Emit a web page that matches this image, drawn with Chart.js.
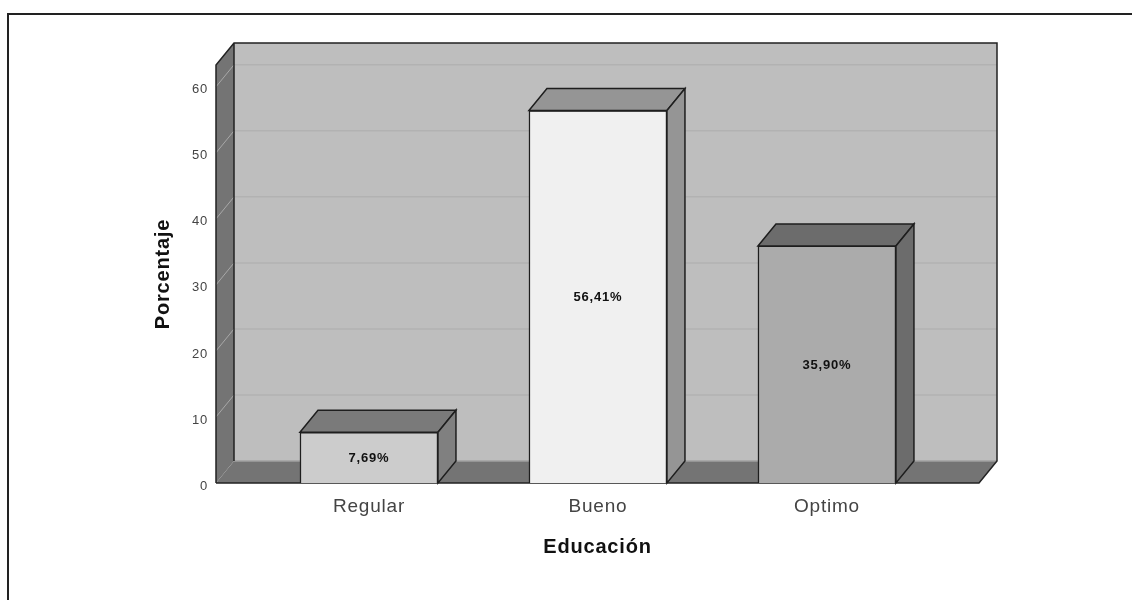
<!DOCTYPE html>
<html><head><meta charset="utf-8">
<style>html,body{margin:0;padding:0;background:#fff;width:1132px;height:600px;overflow:hidden}
#f{position:absolute;left:7px;top:13px;width:1200px;height:700px;border:2px solid #222;box-sizing:content-box}
canvas{position:absolute;left:0;top:0;filter:blur(0.35px)}</style>
<script src="https://cdn.jsdelivr.net/npm/chart.js@4"></script></head>
<body><canvas id="c" width="1132" height="600" style="width:1132px;height:600px"></canvas><div id="f"></div>
<script>
const categories=['Regular','Bueno','Optimo'];
const porcentaje=[7.69,56.41,35.90];
const valueLabels=['7,69%','56,41%','35,90%'];
const yTicks=[0,10,20,30,40,50,60];
const frontColors=['#cccccc','#f0f0f0','#ababab'];
const topColors=['#7a7a7a','#959595','#6c6c6c'];
const sideColors=['#808080','#959595','#6c6c6c'];
const yMax=63.3, xMin=-0.668, xMax=2.664;
const DX=18, DY=-22;
function poly(ctx,pts,fill,stroke,w){ctx.beginPath();pts.forEach((p,i)=>i?ctx.lineTo(p[0],p[1]):ctx.moveTo(p[0],p[1]));ctx.closePath();
 if(fill){ctx.fillStyle=fill;ctx.fill();} if(stroke){ctx.strokeStyle=stroke;ctx.lineWidth=w||1.5;ctx.stroke();}}
const box3d={id:'box3d',
 beforeDraw(chart){chart.ctx.letterSpacing='0.8px';},
 beforeDatasetsDraw(chart){const {ctx,scales:{x,y}}=chart;const L=x.left,R=x.right,T=y.top,B=y.bottom;ctx.save();
  poly(ctx,[[L+DX,T+DY],[R+DX,T+DY],[R+DX,B+DY],[L+DX,B+DY]],'#bebebe');
  poly(ctx,[[L,T],[L+DX,T+DY],[L+DX,B+DY],[L,B]],'#747474');
  poly(ctx,[[L,B],[L+DX,B+DY],[R+DX,B+DY],[R,B]],'#747474');
  yTicks.slice(1).forEach(v=>{const p=y.getPixelForValue(v);ctx.strokeStyle='#b2b2b2';ctx.lineWidth=1.5;
    ctx.beginPath();ctx.moveTo(L+DX,p+DY);ctx.lineTo(R+DX,p+DY);ctx.stroke();
    ctx.strokeStyle='#a8a8a8';ctx.lineWidth=1;ctx.beginPath();ctx.moveTo(L,p);ctx.lineTo(L+DX,p+DY);ctx.stroke();});
  const p0=y.getPixelForValue(0);ctx.strokeStyle='#a0a0a0';ctx.lineWidth=1.5;ctx.beginPath();ctx.moveTo(L+DX,p0+DY);ctx.lineTo(R+DX,p0+DY);ctx.stroke();
  ctx.strokeStyle='#222';ctx.lineWidth=1.5;ctx.beginPath();
  ctx.moveTo(L,B);ctx.lineTo(L,T);ctx.lineTo(L+DX,T+DY);ctx.lineTo(R+DX,T+DY);ctx.lineTo(R+DX,B+DY);ctx.lineTo(R,B);ctx.lineTo(L,B);
  ctx.moveTo(L+DX,T+DY);ctx.lineTo(L+DX,B+DY);ctx.stroke();
  ctx.restore();},
 afterDatasetsDraw(chart){const {ctx}=chart;const bars=chart.getDatasetMeta(0).data;ctx.save();
  bars.forEach((b,i)=>{const l=b.x-b.width/2,r=b.x+b.width/2,t=b.y,bo=b.base;
   poly(ctx,[[l,t],[l+DX,t+DY],[r+DX,t+DY],[r,t]],topColors[i],'#1e1e1e',1.5);
   poly(ctx,[[r,t],[r+DX,t+DY],[r+DX,bo+DY],[r,bo]],sideColors[i],'#1e1e1e',1.5);
   ctx.fillStyle='#111';ctx.font='bold 13px "Liberation Sans"';ctx.textAlign='center';ctx.textBaseline='middle';
   ctx.fillText(valueLabels[i],b.x,(t+bo)/2+1);});
  ctx.restore();}};
new Chart(document.getElementById('c'),{type:'bar',
 data:{datasets:[{data:categories.map((c,i)=>({x:i,y:porcentaje[i]})),backgroundColor:frontColors,borderColor:'#1e1e1e',borderWidth:1.5,barThickness:138}]},
 plugins:[box3d],
 options:{responsive:false,animation:false,devicePixelRatio:1,
  layout:{padding:{top:65,right:153,left:0,bottom:0}},
  plugins:{legend:{display:false},tooltip:{enabled:false},title:{display:false}},
  scales:{
   x:{type:'linear',offset:false,min:xMin,max:xMax,grid:{display:false,drawTicks:false},border:{display:false},
    afterBuildTicks(s){s.ticks=categories.map((c,i)=>({value:i}));},
    afterFit(s){s.height=117;},
    ticks:{autoSkip:false,maxRotation:0,padding:12,color:'#444',font:{family:'"Liberation Sans"',size:19},callback:(v)=>categories[v]},
    title:{display:true,text:'Educación',color:'#111',padding:{top:0,bottom:41},font:{family:'"Liberation Sans"',size:20,weight:'bold'}}},
   y:{min:0,max:yMax,afterFit(s){s.width=216;},
    afterBuildTicks(s){s.ticks=yTicks.map(v=>({value:v}));},
    grid:{display:false,drawTicks:false},border:{display:false},
    ticks:{padding:8,labelOffset:3,color:'#444',font:{family:'"Liberation Sans"',size:13}},
    title:{display:true,text:'Porcentaje',color:'#111',padding:{top:151,bottom:0},font:{family:'"Liberation Sans"',size:20,weight:'bold'}}}
  }}});
</script></body></html>
